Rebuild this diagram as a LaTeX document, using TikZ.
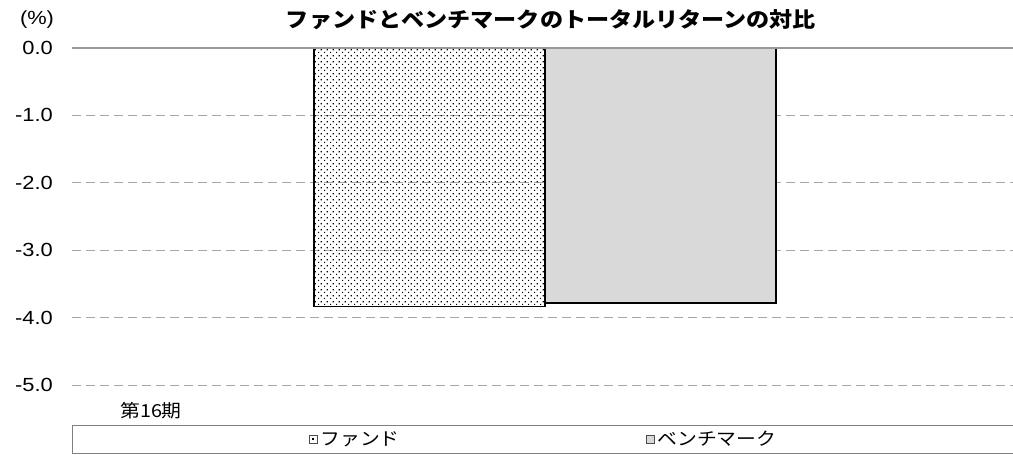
\documentclass[tikz,border=0pt]{standalone}
\usepackage{fontspec}
\setmainfont[FakeStretch=1.15]{Liberation Sans}
\newfontfamily\jpfont[FakeStretch=1.1]{Noto Sans CJK JP}
\usetikzlibrary{patterns,positioning}
\pgfdeclarepatternformonly{funddots}{\pgfpointorigin}{\pgfpoint{6pt}{6pt}}{\pgfpoint{6pt}{6pt}}{%
  \pgfpathrectangle{\pgfpoint{0pt}{0pt}}{\pgfpoint{1.4pt}{1.4pt}}%
  \pgfpathrectangle{\pgfpoint{3pt}{3pt}}{\pgfpoint{1.4pt}{1.4pt}}%
  \pgfusepath{fill}}

\begin{document}
\begin{tikzpicture}[x=1pt,y=-1pt,node distance=3pt,
  grid/.style={gray!70,line width=1pt,dash pattern=on 9pt off 5pt},
  zeroline/.style={gray!80,line width=1.4pt},
  ticklabel/.style={anchor=east,inner sep=0pt,font=\fontsize{19}{19}\selectfont},
  bar/.style={draw=black,line width=1.4pt},
  marker/.style={draw=black!70,line width=0.6pt,minimum size=8pt,inner sep=0pt},
  legendtext/.style={inner sep=0pt,font=\jpfont\fontsize{18}{18}\selectfont}]
  \useasboundingbox (0,0) rectangle (1013,455);
  % grid and axis labels
  \foreach \v in {1,...,5}
    \draw[grid] (72,{48+67.4*\v}) -- (1013,{48+67.4*\v});
  \node[ticklabel] (t0) at (53,48) {0.0};
  \foreach \v in {1,...,5}
    \node[ticklabel] (t\v) at (53,{48+67.4*\v}) {-\v.0};
  \node[inner sep=0pt,font=\fontsize{19}{19}\selectfont] (unit) at (37,20) {(\%)};
  % bars
  \draw[bar,fill=black!15] (545,48) rectangle (776,303);
  \draw[bar,pattern=funddots] (314,48) rectangle (545,306.5);
  \draw[zeroline] (72,48) -- (1013,48);
  % title and category
  \node[inner sep=0pt,font=\jpfont\bfseries\fontsize{21}{21}\selectfont] (title) at (551,20)
    {ファンドとベンチマークのトータルリターンの対比};
  \node[inner sep=0pt,font=\jpfont\fontsize{18}{18}\selectfont] (cat) at (151,411) {第16期};
  % legend
  \draw[gray,line width=1pt] (72,425) rectangle (1015,453);
  \node[marker] (mk1) at (313,439) {};
  \fill (mk1.center) ++(-1,-1) rectangle ++(2,2);
  \node[legendtext,right=of mk1] (lg1) {ファンド};
  \node[marker,fill=black!15] (mk2) at (650,439) {};
  \node[legendtext,right=of mk2] (lg2) {ベンチマーク};
\end{tikzpicture}
\end{document}
